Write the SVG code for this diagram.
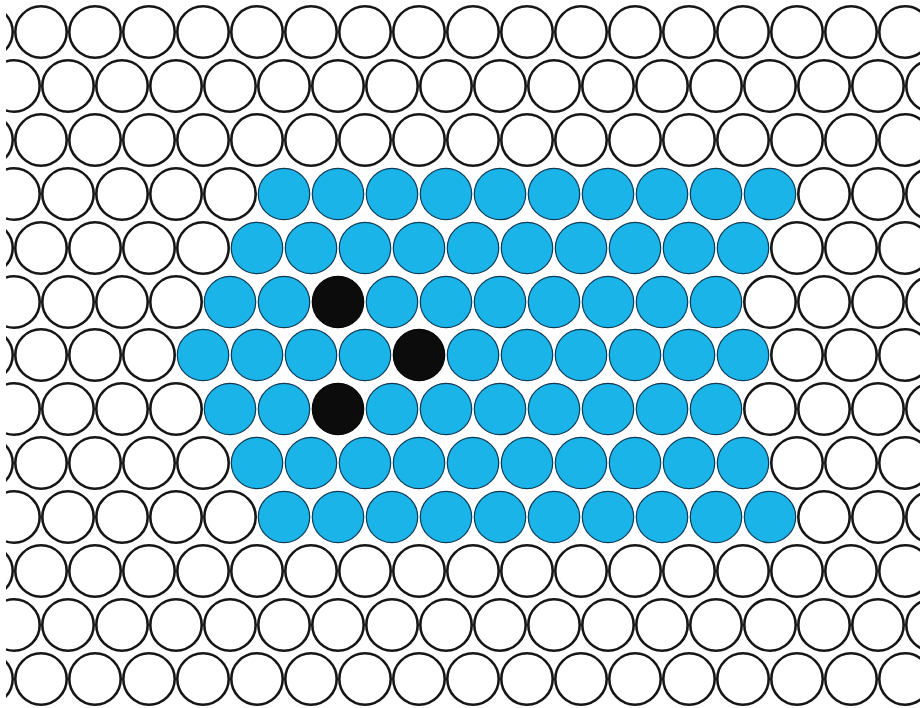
<svg xmlns="http://www.w3.org/2000/svg" xmlns:xlink="http://www.w3.org/1999/xlink" width="920" height="708" viewBox="0 0 920 708">
<style>
.w{fill:#ffffff;stroke:#161616;stroke-width:2.6}
.b{fill:#1ab4e8;stroke:#0f3a56;stroke-width:1.2}
.k{fill:#0c0c0c;stroke:#050505;stroke-width:1.2}
</style>
<defs>
<circle id="o" r="25.7"/>
<clipPath id="clip"><rect x="6" y="5" width="914" height="703"/></clipPath>
</defs>
<rect width="920" height="708" fill="#ffffff"/>
<g id="grid" clip-path="url(#clip)">
<g id="row1" transform="translate(0,32)">
<use href="#o" x="-13" class="w"/><use href="#o" x="41" class="w"/><use href="#o" x="95" class="w"/><use href="#o" x="149" class="w"/><use href="#o" x="203" class="w"/><use href="#o" x="257" class="w"/><use href="#o" x="311" class="w"/><use href="#o" x="365" class="w"/><use href="#o" x="419" class="w"/><use href="#o" x="473" class="w"/><use href="#o" x="527" class="w"/><use href="#o" x="581" class="w"/><use href="#o" x="635" class="w"/><use href="#o" x="689" class="w"/><use href="#o" x="743" class="w"/><use href="#o" x="797" class="w"/><use href="#o" x="851" class="w"/><use href="#o" x="905" class="w"/>
</g>
<g id="row2" transform="translate(0,86)">
<use href="#o" x="14" class="w"/><use href="#o" x="68" class="w"/><use href="#o" x="122" class="w"/><use href="#o" x="176" class="w"/><use href="#o" x="230" class="w"/><use href="#o" x="284" class="w"/><use href="#o" x="338" class="w"/><use href="#o" x="392" class="w"/><use href="#o" x="446" class="w"/><use href="#o" x="500" class="w"/><use href="#o" x="554" class="w"/><use href="#o" x="608" class="w"/><use href="#o" x="662" class="w"/><use href="#o" x="716" class="w"/><use href="#o" x="770" class="w"/><use href="#o" x="824" class="w"/><use href="#o" x="878" class="w"/><use href="#o" x="932" class="w"/>
</g>
<g id="row3" transform="translate(0,140)">
<use href="#o" x="-13" class="w"/><use href="#o" x="41" class="w"/><use href="#o" x="95" class="w"/><use href="#o" x="149" class="w"/><use href="#o" x="203" class="w"/><use href="#o" x="257" class="w"/><use href="#o" x="311" class="w"/><use href="#o" x="365" class="w"/><use href="#o" x="419" class="w"/><use href="#o" x="473" class="w"/><use href="#o" x="527" class="w"/><use href="#o" x="581" class="w"/><use href="#o" x="635" class="w"/><use href="#o" x="689" class="w"/><use href="#o" x="743" class="w"/><use href="#o" x="797" class="w"/><use href="#o" x="851" class="w"/><use href="#o" x="905" class="w"/>
</g>
<g id="row4" transform="translate(0,194)">
<use href="#o" x="14" class="w"/><use href="#o" x="68" class="w"/><use href="#o" x="122" class="w"/><use href="#o" x="176" class="w"/><use href="#o" x="230" class="w"/><use href="#o" x="284" class="b"/><use href="#o" x="338" class="b"/><use href="#o" x="392" class="b"/><use href="#o" x="446" class="b"/><use href="#o" x="500" class="b"/><use href="#o" x="554" class="b"/><use href="#o" x="608" class="b"/><use href="#o" x="662" class="b"/><use href="#o" x="716" class="b"/><use href="#o" x="770" class="b"/><use href="#o" x="824" class="w"/><use href="#o" x="878" class="w"/><use href="#o" x="932" class="w"/>
</g>
<g id="row5" transform="translate(0,248)">
<use href="#o" x="-13" class="w"/><use href="#o" x="41" class="w"/><use href="#o" x="95" class="w"/><use href="#o" x="149" class="w"/><use href="#o" x="203" class="w"/><use href="#o" x="257" class="b"/><use href="#o" x="311" class="b"/><use href="#o" x="365" class="b"/><use href="#o" x="419" class="b"/><use href="#o" x="473" class="b"/><use href="#o" x="527" class="b"/><use href="#o" x="581" class="b"/><use href="#o" x="635" class="b"/><use href="#o" x="689" class="b"/><use href="#o" x="743" class="b"/><use href="#o" x="797" class="w"/><use href="#o" x="851" class="w"/><use href="#o" x="905" class="w"/>
</g>
<g id="row6" transform="translate(0,302)">
<use href="#o" x="14" class="w"/><use href="#o" x="68" class="w"/><use href="#o" x="122" class="w"/><use href="#o" x="176" class="w"/><use href="#o" x="230" class="b"/><use href="#o" x="284" class="b"/><use href="#o" x="338" class="k"/><use href="#o" x="392" class="b"/><use href="#o" x="446" class="b"/><use href="#o" x="500" class="b"/><use href="#o" x="554" class="b"/><use href="#o" x="608" class="b"/><use href="#o" x="662" class="b"/><use href="#o" x="716" class="b"/><use href="#o" x="770" class="w"/><use href="#o" x="824" class="w"/><use href="#o" x="878" class="w"/><use href="#o" x="932" class="w"/>
</g>
<g id="row7" transform="translate(0,355)">
<use href="#o" x="-13" class="w"/><use href="#o" x="41" class="w"/><use href="#o" x="95" class="w"/><use href="#o" x="149" class="w"/><use href="#o" x="203" class="b"/><use href="#o" x="257" class="b"/><use href="#o" x="311" class="b"/><use href="#o" x="365" class="b"/><use href="#o" x="419" class="k"/><use href="#o" x="473" class="b"/><use href="#o" x="527" class="b"/><use href="#o" x="581" class="b"/><use href="#o" x="635" class="b"/><use href="#o" x="689" class="b"/><use href="#o" x="743" class="b"/><use href="#o" x="797" class="w"/><use href="#o" x="851" class="w"/><use href="#o" x="905" class="w"/>
</g>
<g id="row8" transform="translate(0,409)">
<use href="#o" x="14" class="w"/><use href="#o" x="68" class="w"/><use href="#o" x="122" class="w"/><use href="#o" x="176" class="w"/><use href="#o" x="230" class="b"/><use href="#o" x="284" class="b"/><use href="#o" x="338" class="k"/><use href="#o" x="392" class="b"/><use href="#o" x="446" class="b"/><use href="#o" x="500" class="b"/><use href="#o" x="554" class="b"/><use href="#o" x="608" class="b"/><use href="#o" x="662" class="b"/><use href="#o" x="716" class="b"/><use href="#o" x="770" class="w"/><use href="#o" x="824" class="w"/><use href="#o" x="878" class="w"/><use href="#o" x="932" class="w"/>
</g>
<g id="row9" transform="translate(0,463)">
<use href="#o" x="-13" class="w"/><use href="#o" x="41" class="w"/><use href="#o" x="95" class="w"/><use href="#o" x="149" class="w"/><use href="#o" x="203" class="w"/><use href="#o" x="257" class="b"/><use href="#o" x="311" class="b"/><use href="#o" x="365" class="b"/><use href="#o" x="419" class="b"/><use href="#o" x="473" class="b"/><use href="#o" x="527" class="b"/><use href="#o" x="581" class="b"/><use href="#o" x="635" class="b"/><use href="#o" x="689" class="b"/><use href="#o" x="743" class="b"/><use href="#o" x="797" class="w"/><use href="#o" x="851" class="w"/><use href="#o" x="905" class="w"/>
</g>
<g id="row10" transform="translate(0,517)">
<use href="#o" x="14" class="w"/><use href="#o" x="68" class="w"/><use href="#o" x="122" class="w"/><use href="#o" x="176" class="w"/><use href="#o" x="230" class="w"/><use href="#o" x="284" class="b"/><use href="#o" x="338" class="b"/><use href="#o" x="392" class="b"/><use href="#o" x="446" class="b"/><use href="#o" x="500" class="b"/><use href="#o" x="554" class="b"/><use href="#o" x="608" class="b"/><use href="#o" x="662" class="b"/><use href="#o" x="716" class="b"/><use href="#o" x="770" class="b"/><use href="#o" x="824" class="w"/><use href="#o" x="878" class="w"/><use href="#o" x="932" class="w"/>
</g>
<g id="row11" transform="translate(0,571)">
<use href="#o" x="-13" class="w"/><use href="#o" x="41" class="w"/><use href="#o" x="95" class="w"/><use href="#o" x="149" class="w"/><use href="#o" x="203" class="w"/><use href="#o" x="257" class="w"/><use href="#o" x="311" class="w"/><use href="#o" x="365" class="w"/><use href="#o" x="419" class="w"/><use href="#o" x="473" class="w"/><use href="#o" x="527" class="w"/><use href="#o" x="581" class="w"/><use href="#o" x="635" class="w"/><use href="#o" x="689" class="w"/><use href="#o" x="743" class="w"/><use href="#o" x="797" class="w"/><use href="#o" x="851" class="w"/><use href="#o" x="905" class="w"/>
</g>
<g id="row12" transform="translate(0,625)">
<use href="#o" x="14" class="w"/><use href="#o" x="68" class="w"/><use href="#o" x="122" class="w"/><use href="#o" x="176" class="w"/><use href="#o" x="230" class="w"/><use href="#o" x="284" class="w"/><use href="#o" x="338" class="w"/><use href="#o" x="392" class="w"/><use href="#o" x="446" class="w"/><use href="#o" x="500" class="w"/><use href="#o" x="554" class="w"/><use href="#o" x="608" class="w"/><use href="#o" x="662" class="w"/><use href="#o" x="716" class="w"/><use href="#o" x="770" class="w"/><use href="#o" x="824" class="w"/><use href="#o" x="878" class="w"/><use href="#o" x="932" class="w"/>
</g>
<g id="row13" transform="translate(0,679)">
<use href="#o" x="-13" class="w"/><use href="#o" x="41" class="w"/><use href="#o" x="95" class="w"/><use href="#o" x="149" class="w"/><use href="#o" x="203" class="w"/><use href="#o" x="257" class="w"/><use href="#o" x="311" class="w"/><use href="#o" x="365" class="w"/><use href="#o" x="419" class="w"/><use href="#o" x="473" class="w"/><use href="#o" x="527" class="w"/><use href="#o" x="581" class="w"/><use href="#o" x="635" class="w"/><use href="#o" x="689" class="w"/><use href="#o" x="743" class="w"/><use href="#o" x="797" class="w"/><use href="#o" x="851" class="w"/><use href="#o" x="905" class="w"/>
</g>
</g>
</svg>
